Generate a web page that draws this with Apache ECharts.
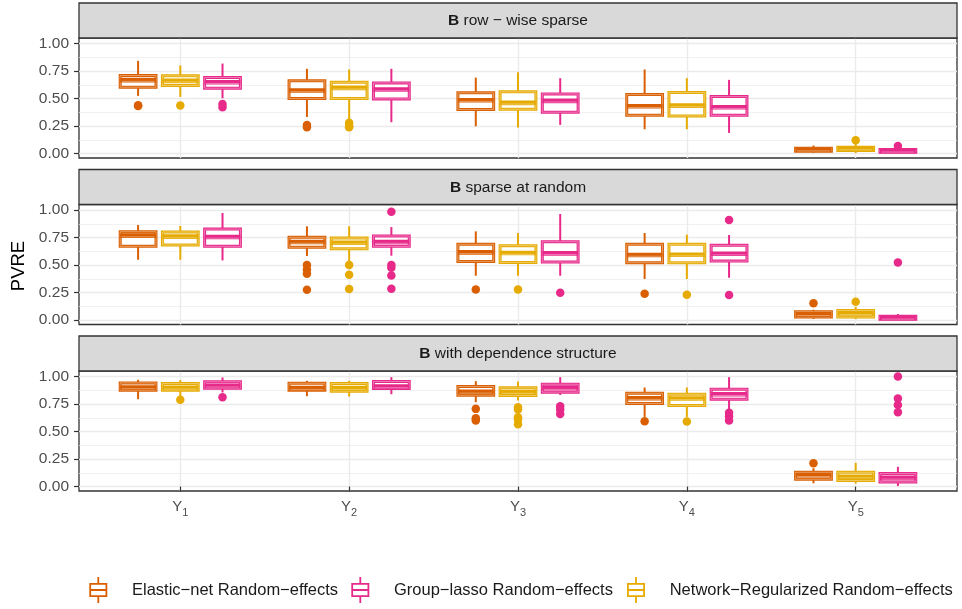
<!DOCTYPE html>
<html><head><meta charset="utf-8">
<script src="https://cdn.jsdelivr.net/npm/echarts@6/dist/echarts.min.js"></script>
<style>html,body{margin:0;padding:0;background:#fff}#c{width:962px;height:609px}</style>
</head><body><div id="c"></div>
<script>
// ---------------- data ----------------
const categories = ['1', '2', '3', '4', '5'];            // Y subscripts
const xTicks = [1, 2, 3, 4, 5];
const yTicks = [0, 0.25, 0.5, 0.75, 1];
const yMinorTicks = [0.125, 0.375, 0.625, 0.875];
const panelTitles = ['row \u2212 wise sparse', 'sparse at random', 'with dependence structure'];
const methodNames = ['Elastic\u2212net Random\u2212effects', 'Network\u2212Regularized Random\u2212effects', 'Group\u2212lasso Random\u2212effects'];
const legendOrder = ['Elastic\u2212net Random\u2212effects', 'Group\u2212lasso Random\u2212effects', 'Network\u2212Regularized Random\u2212effects'];

// box stats per category: [lower whisker, Q1, median, Q3, upper whisker]
const rowElastic = [[0.524, 0.603, 0.667, 0.709, 0.842], [0.333, 0.500, 0.573, 0.661, 0.770], [0.248, 0.400, 0.485, 0.552, 0.690], [0.221, 0.348, 0.430, 0.536, 0.764], [0.009, 0.022, 0.035, 0.048, 0.073]];
const rowNetwork = [[0.515, 0.618, 0.661, 0.706, 0.800], [0.303, 0.500, 0.597, 0.648, 0.764], [0.236, 0.403, 0.461, 0.561, 0.739], [0.221, 0.342, 0.436, 0.555, 0.685], [0.006, 0.028, 0.045, 0.058, 0.090]];
const rowGroup   = [[0.503, 0.594, 0.648, 0.691, 0.818], [0.285, 0.497, 0.582, 0.642, 0.770], [0.261, 0.376, 0.479, 0.542, 0.685], [0.188, 0.348, 0.421, 0.518, 0.670], [0.003, 0.012, 0.025, 0.038, 0.055]];
const randElastic = [[0.548, 0.670, 0.767, 0.803, 0.864], [0.582, 0.661, 0.709, 0.752, 0.852], [0.403, 0.533, 0.615, 0.688, 0.806], [0.373, 0.521, 0.591, 0.688, 0.791], [0.010, 0.028, 0.052, 0.076, 0.094]];
const randNetwork = [[0.548, 0.682, 0.758, 0.800, 0.855], [0.533, 0.648, 0.703, 0.745, 0.852], [0.403, 0.524, 0.609, 0.676, 0.791], [0.373, 0.521, 0.594, 0.688, 0.776], [0.009, 0.027, 0.060, 0.088, 0.120]];
const randGroup   = [[0.542, 0.670, 0.755, 0.827, 0.973], [0.585, 0.670, 0.709, 0.764, 0.845], [0.403, 0.527, 0.606, 0.712, 0.964], [0.385, 0.536, 0.603, 0.679, 0.773], [0.003, 0.008, 0.020, 0.034, 0.055]];
const depElastic = [[0.794, 0.876, 0.900, 0.942, 0.970], [0.821, 0.876, 0.894, 0.939, 0.961], [0.767, 0.830, 0.860, 0.909, 0.958], [0.633, 0.755, 0.803, 0.848, 0.900], [0.030, 0.067, 0.103, 0.130, 0.167]];
const depNetwork = [[0.824, 0.876, 0.897, 0.936, 0.967], [0.818, 0.867, 0.894, 0.936, 0.961], [0.782, 0.827, 0.858, 0.897, 0.955], [0.633, 0.736, 0.800, 0.839, 0.900], [0.027, 0.055, 0.090, 0.130, 0.215]];
const depGroup   = [[0.855, 0.894, 0.915, 0.952, 0.991], [0.839, 0.891, 0.909, 0.955, 0.994], [0.833, 0.858, 0.894, 0.930, 0.994], [0.703, 0.794, 0.839, 0.885, 0.994], [0.006, 0.042, 0.079, 0.118, 0.180]];

// outliers per category
const rowElasticOut = [[0.433, 0.440], [0.260, 0.240], [], [], []];
const rowNetworkOut = [[0.436], [0.280, 0.250, 0.240], [], [], [0.121]];
const rowGroupOut   = [[0.450, 0.420], [], [], [], [0.070]];
const randElasticOut = [[], [0.500, 0.460, 0.420, 0.276], [0.279], [0.239], [0.152]];
const randNetworkOut = [[], [0.500, 0.412, 0.282], [0.279], [0.230], [0.167]];
const randGroupOut   = [[], [0.985, 0.500, 0.476, 0.406, 0.285], [0.248], [0.909, 0.227], [0.524]];
const depElasticOut = [[], [], [0.706, 0.621, 0.600], [0.594], [0.212]];
const depNetworkOut = [[0.788], [], [0.720, 0.700, 0.630, 0.612, 0.567], [0.591], []];
const depGroupOut   = [[0.812], [], [0.730, 0.700, 0.660], [0.670, 0.640, 0.600], [1.000, 0.800, 0.742, 0.676]];

// ---------------- layout / style ----------------
const colors = ['#D95F02', '#E6AB02', '#E7298A'];   // Elastic, Network, Group
const dodge = [-0.25, 0, 0.25];
const panelStats = [[rowElastic, rowNetwork, rowGroup], [randElastic, randNetwork, randGroup], [depElastic, depNetwork, depGroup]];
const panelOut = [[rowElasticOut, rowNetworkOut, rowGroupOut], [randElasticOut, randNetworkOut, randGroupOut], [depElasticOut, depNetworkOut, depGroupOut]];
const gridTops = [38, 204.5, 371];
const stripH = 35, gridH = 120, gridL = 79, gridW = 878;
const FONT = 'Liberation Sans, Arial, Helvetica, sans-serif';
const AX = '#4D4D4D', GRIDC = '#EBEBEB', FRAME = '#333333';
const HL = 'rgba(255,255,255,0.55)';

function renderBox(params, api) {
  const x = api.value(0);
  const lo = api.coord([x, api.value(1)]);
  const q1 = api.coord([x, api.value(2)]);
  const md = api.coord([x, api.value(3)]);
  const q3 = api.coord([x, api.value(4)]);
  const hi = api.coord([x, api.value(5)]);
  const w = api.size([0.212, 0])[0];
  const c = api.visual('color');
  const cx = lo[0], l = cx - w / 2;
  const rect = { x: l, y: q3[1], width: w, height: q1[1] - q3[1] };
  return {
    type: 'group',
    children: [
      { type: 'line', shape: { x1: cx, y1: q3[1], x2: cx, y2: hi[1] }, style: { stroke: c, lineWidth: 2 } },
      { type: 'line', shape: { x1: cx, y1: q1[1], x2: cx, y2: lo[1] }, style: { stroke: c, lineWidth: 2 } },
      { type: 'rect', shape: rect, style: { fill: '#fff', stroke: c, lineWidth: 3 } },
      { type: 'rect', shape: rect, style: { fill: 'none', stroke: HL, lineWidth: 0.7 } },
      { type: 'line', shape: { x1: l, y1: md[1], x2: l + w, y2: md[1] }, style: { stroke: c, lineWidth: 4.6 } },
      { type: 'line', shape: { x1: l + 1.5, y1: md[1] + 1.2, x2: l + w - 1.5, y2: md[1] + 1.2 }, style: { stroke: HL, lineWidth: 0.7 } }
    ]
  };
}

const grids = [], xAxes = [], yAxes = [], series = [], graphics = [];
for (let p = 0; p < 3; p++) {
  grids.push({ left: gridL, width: gridW, top: gridTops[p], height: gridH, show: true, borderColor: FRAME, borderWidth: 1.3, backgroundColor: '#fff' });
  xAxes.push({
    gridIndex: p, type: 'value', min: 0.4, max: 5.6,
    axisLine: { show: false },
    axisTick: { show: p === 2, customValues: xTicks, length: 5, lineStyle: { color: FRAME, width: 1.2 } },
    axisLabel: {
      show: p === 2, customValues: xTicks, margin: 8,
      formatter: v => '{y|Y}{s|' + categories[Math.round(v) - 1] + '}',
      rich: {
        y: { fontSize: 15, color: AX, fontFamily: FONT, verticalAlign: 'bottom', padding: [0, 0, 4, 0] },
        s: { fontSize: 11, color: AX, fontFamily: FONT, verticalAlign: 'bottom' }
      }
    },
    splitLine: { show: true, lineStyle: { color: GRIDC, width: 1.4 } }
  });
  yAxes.push({
    gridIndex: p, type: 'value', min: -0.04, max: 1.05,
    axisLine: { show: false },
    axisTick: { show: true, customValues: yTicks, length: 5, lineStyle: { color: FRAME, width: 1.2 } },
    axisLabel: { customValues: yTicks, formatter: v => v.toFixed(2), color: AX, fontSize: 15.5, fontFamily: FONT, margin: 10 },
    splitLine: { show: true, lineStyle: { color: GRIDC, width: 1.4 } }
  });
  yAxes.push({
    gridIndex: p, type: 'value', min: -0.04, max: 1.05, position: 'right',
    axisLine: { show: false }, axisLabel: { show: false },
    axisTick: { show: false, customValues: yMinorTicks },
    splitLine: { show: true, lineStyle: { color: GRIDC, width: 0.7 } }
  });
  for (let m = 0; m < 3; m++) {
    const stats = panelStats[p][m];
    series.push({
      type: 'custom', name: methodNames[m], xAxisIndex: p, yAxisIndex: 2 * p,
      itemStyle: { color: colors[m] },
      encode: { x: 0, y: [1, 2, 3, 4, 5] },
      data: stats.map((s, i) => [xTicks[i] + dodge[m]].concat(s)),
      renderItem: renderBox, z: 3, silent: true
    });
    const pts = [];
    panelOut[p][m].forEach((vals, i) => vals.forEach(v => pts.push([xTicks[i] + dodge[m], v])));
    series.push({
      type: 'scatter', name: methodNames[m], xAxisIndex: p, yAxisIndex: 2 * p,
      symbol: 'circle', symbolSize: 8.5, itemStyle: { color: colors[m], opacity: 1 },
      data: pts, z: 4, silent: true
    });
  }
  const sTop = gridTops[p] - stripH;
  graphics.push({ type: 'rect', shape: { x: gridL, y: sTop, width: gridW, height: stripH }, style: { fill: '#D9D9D9', stroke: FRAME, lineWidth: 1.3 }, z: 5 });
  graphics.push({
    type: 'text', x: gridL + gridW / 2, y: sTop + stripH / 2 + 0.5, z: 6,
    style: {
      text: '{b|B} ' + panelTitles[p], align: 'center', verticalAlign: 'middle',
      fontSize: 15.5, fontFamily: FONT, fill: '#1A1A1A',
      rich: { b: { fontWeight: 'bold', fontSize: 15.5, fontFamily: FONT, fill: '#1A1A1A' } }
    }
  });
}
graphics.push({
  type: 'text', x: 19, y: 266, rotation: Math.PI / 2, z: 6,
  style: { text: 'PVRE', align: 'center', verticalAlign: 'middle', fontSize: 18.5, fontFamily: FONT, fill: '#000' }
});

const boxIcon = 'path://M8.1 0H9.9V6H8.1Z M0 6H18V20H0Z M1.8 7.8V18.2H16.2V7.8Z M1.8 12.1H16.2V13.9H1.8Z M8.1 20H9.9V26H8.1Z';
const legendLefts = [89.3, 351.3, 627];
const LW = 57.4;
const legends = legendOrder.map((name, k) => ({
  data: [{ name: name, icon: boxIcon }],
  left: legendLefts[k], top: 577, padding: 0,
  itemWidth: LW, itemHeight: 26, symbolKeepAspect: true, selectedMode: false,
  itemStyle: { borderWidth: 0 },
  textStyle: { fontSize: 16.5, color: '#1A1A1A', fontFamily: FONT }
}));

const chart = echarts.init(document.getElementById('c'), null, { renderer: 'canvas' });
chart.setOption({
  animation: false,
  backgroundColor: '#fff',
  textStyle: { fontFamily: FONT },
  grid: grids, xAxis: xAxes, yAxis: yAxes,
  legend: legends,
  series: series,
  graphic: graphics
});
</script></body></html>
